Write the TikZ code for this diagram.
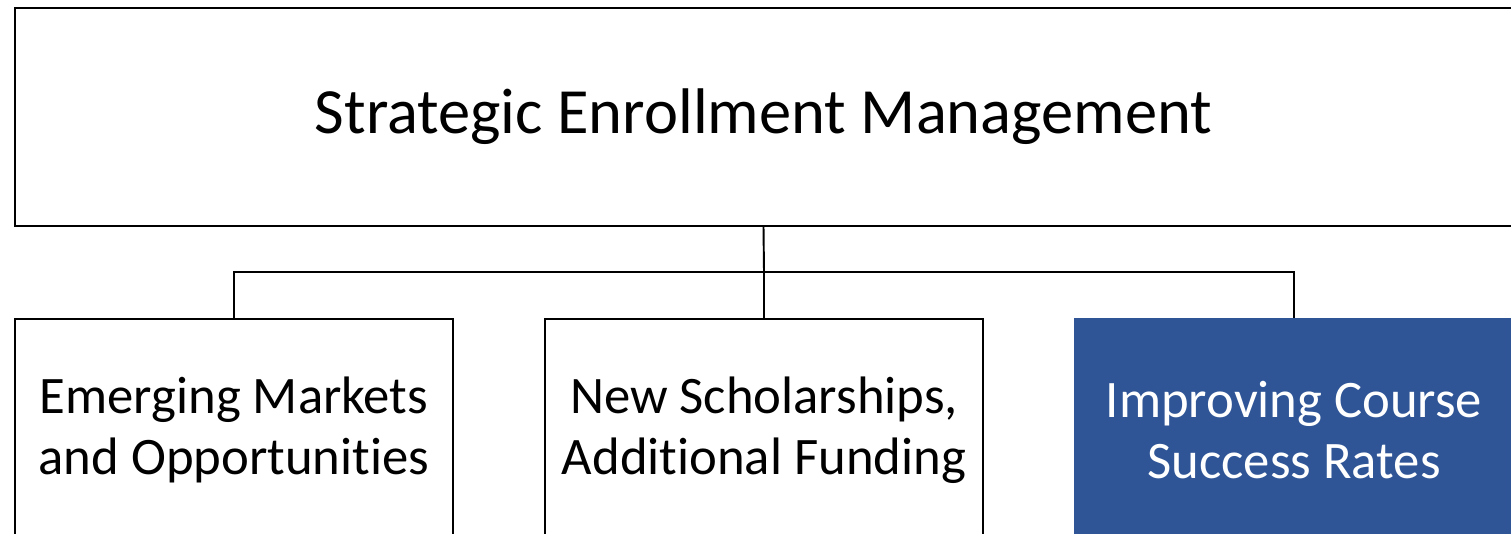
\documentclass[tikz,border=0pt]{standalone}
\usepackage{fontspec}
\setmainfont{Carlito}[Ligatures=NoCommon]
\usepackage{tikz}
\definecolor{semblue}{RGB}{47,85,151}
\tikzset{
  box/.style={draw, line width=1.1pt, fill=white, minimum width=438*0.02cm, minimum height=222*0.02cm, align=center, font=\fontsize{30}{34.5}\selectfont},
  bluebox/.style={box, fill=semblue, draw=semblue, text=white}
}
\begin{document}
\begin{tikzpicture}[x=0.02cm, y=-0.02cm]
\useasboundingbox (0,0) rectangle (1511,534);
\node[box, minimum width=1497*0.02cm, minimum height=218*0.02cm, font=\fontsize{36.7}{44}\selectfont] (sem) at (763.5,117) {Strategic Enrollment Management};

\node[box] (markets) at (234,430) {Emerging Markets\\and Opportunities};
\node[box] (scholarships) at (764,430) {New Scholarships,\\Additional Funding};
\node[bluebox] (success) at (1294,430) {Improving Course\\Success Rates};

\coordinate (bus) at (764,272);
\draw[line width=1.1pt] (sem.south) -- (bus);
\draw[line width=1.1pt] (markets.north) |- (bus) -| (success.north);
\draw[line width=1.1pt] (scholarships.north) -- (bus);
\end{tikzpicture}
\end{document}
